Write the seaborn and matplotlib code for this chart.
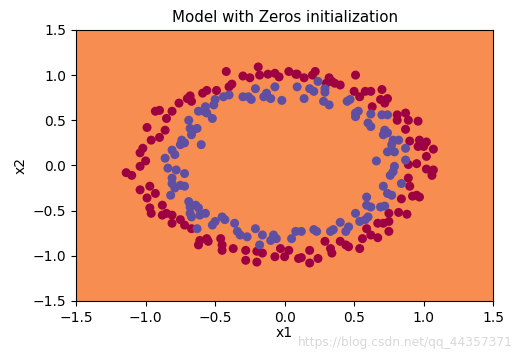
import matplotlib
matplotlib.use("Agg")
import matplotlib.pyplot as plt
import seaborn as sns
import pandas as pd

# Outer ring (label 0, dark red)
red_x = [-0.42, -0.30, -0.25, -0.19, -0.18, -0.12, -0.07, -0.04, 0.03, 0.09,
         -0.38, -0.40, -0.49, -0.56, -0.59, -0.68, -0.70, -0.67, -0.76, -0.93,
         -0.90, -0.81, -0.85, -0.99, -0.86, -0.90, -0.96, -1.02, -1.04, -1.00,
         -1.04, -1.14, -1.10,
         0.08, 0.14, 0.20, 0.22, 0.32, 0.34, 0.36, 0.40, 0.51, 0.30,
         0.50, 0.54, 0.58, 0.62, 0.70, 0.69, 0.74, 0.72, 0.63, 0.81,
         0.81, 0.87, 0.89, 0.96, 0.87, 0.90, 0.97, 1.02, 0.96, 1.00,
         1.07, 1.02, 0.89, 0.95, 1.02, 1.07, 1.06, 0.89,
         -1.04, -0.97, -0.93, -0.99, -0.97, -0.96, -0.88, -0.88, -0.85, -0.81,
         -0.81, -0.75, -0.72, -0.67, -0.62, -0.61, -0.56, -0.55, -0.46, -0.45,
         -0.45, -0.37, -0.28, -0.28, -0.20, -0.16, -0.20, -0.07, -0.03, 0.00,
         0.03, 0.10,
         0.90, 0.92, 0.95, 0.97, 0.84, 0.75, 0.82, 0.88, 0.67, 0.71,
         0.75, 0.59, 0.62, 0.75, 0.56, 0.67, 0.40, 0.44, 0.46, 0.29,
         0.33, 0.34, 0.54, 0.18, 0.12, 0.18, 0.24]
red_y = [1.04, 0.99, 0.97, 1.09, 1.00, 1.01, 1.02, 0.98, 1.04, 1.01,
         0.90, 0.87, 0.83, 0.83, 0.80, 0.77, 0.74, 0.71, 0.69, 0.60,
         0.61, 0.60, 0.52, 0.42, 0.39, 0.31, 0.28, 0.19, 0.14, 0.05,
         -0.01, -0.08, -0.11,
         1.01, 0.97, 1.00, 1.04, 0.97, 0.93, 0.91, 0.89, 1.00, 0.91,
         0.82, 0.76, 0.82, 0.82, 0.84, 0.73, 0.74, 0.69, 0.65, 0.56,
         0.50, 0.58, 0.50, 0.49, 0.40, 0.27, 0.28, 0.26, 0.21, 0.21,
         0.18, 0.10, 0.01, 0.02, -0.04, -0.05, -0.11, -0.14,
         -0.27, -0.23, -0.31, -0.36, -0.47, -0.53, -0.44, -0.55, -0.53, -0.55,
         -0.64, -0.60, -0.66, -0.70, -0.88, -0.83, -0.81, -0.84, -0.81, -0.88,
         -0.94, -0.92, -0.94, -1.05, -0.95, -0.97, -1.07, -1.01, -0.92, -1.01,
         -0.94, -1.03,
         -0.23, -0.34, -0.33, -0.35, -0.37, -0.53, -0.52, -0.54, -0.64, -0.64,
         -0.62, -0.70, -0.77, -0.73, -0.81, -0.80, -0.84, -0.88, -0.90, -0.84,
         -0.92, -0.97, -0.92, -0.94, -1.02, -1.08, -1.03]

# Inner ring (label 1, blue-violet)
blue_x = [-0.21, -0.26, -0.30, -0.24, -0.13, -0.15, -0.10, -0.07, -0.02, 0.09,
          -0.40, -0.44, -0.50, -0.51, -0.57, -0.58, -0.62, -0.52, -0.56, -0.69,
          -0.68, -0.66, -0.63, -0.67, -0.74, -0.75, -0.72, -0.60, -0.81, -0.79,
          -0.86, -0.84, -0.78, -0.72, -0.81,
          0.14, 0.18, 0.21, 0.24, 0.29, 0.29, 0.28, 0.32, 0.45, 0.47,
          0.51, 0.53, 0.51, 0.62, 0.60, 0.62, 0.70, 0.74, 0.72, 0.74,
          0.71, 0.78, 0.82, 0.77, 0.74, 0.79, 0.87, 0.66, 0.87, 0.79,
          0.78, 0.76,
          -0.81, -0.79, -0.75, -0.72, -0.82, -0.69, -0.68, -0.64, -0.62, -0.68,
          -0.67, -0.57, -0.61, -0.63, -0.52, -0.50, -0.45, -0.43, -0.36, -0.34,
          -0.32, -0.27, -0.21, -0.16, -0.18, -0.10, -0.08, -0.06, 0.05, 0.08,
          0.84, 0.71, 0.74, 0.77, 0.59, 0.59, 0.62, 0.69, 0.72, 0.51,
          0.54, 0.58, 0.60, 0.40, 0.46, 0.44, 0.35, 0.33, 0.21, 0.23,
          0.12]
blue_y = [0.85, 0.76, 0.76, 0.73, 0.80, 0.76, 0.74, 0.87, 0.72, 0.87,
          0.78, 0.76, 0.73, 0.67, 0.65, 0.60, 0.60, 0.52, 0.58, 0.50,
          0.41, 0.39, 0.41, 0.34, 0.28, 0.23, 0.25, 0.23, 0.17, 0.12,
          0.08, -0.03, -0.05, -0.09, -0.14,
          0.74, 0.85, 0.82, 0.93, 0.85, 0.81, 0.71, 0.67, 0.71, 0.73,
          0.58, 0.60, 0.54, 0.57, 0.47, 0.43, 0.56, 0.56, 0.39, 0.36,
          0.34, 0.28, 0.28, 0.23, 0.15, 0.15, 0.19, 0.05, 0.06, -0.01,
          -0.07, -0.11,
          -0.20, -0.25, -0.22, -0.23, -0.33, -0.40, -0.46, -0.44, -0.47, -0.53,
          -0.57, -0.53, -0.55, -0.70, -0.66, -0.62, -0.57, -0.60, -0.64, -0.73,
          -0.77, -0.79, -0.70, -0.77, -0.88, -0.83, -0.77, -0.81, -0.81, -0.73,
          -0.20, -0.23, -0.31, -0.33, -0.35, -0.44, -0.46, -0.46, -0.45, -0.53,
          -0.62, -0.60, -0.57, -0.63, -0.68, -0.73, -0.71, -0.73, -0.71, -0.73,
          -0.73]

title = "Model with Zeros initialization"
ticks = [-1.5, -1.0, -0.5, 0.0, 0.5, 1.0, 1.5]

df = pd.DataFrame({
    "x1": red_x + blue_x,
    "x2": red_y + blue_y,
    "label": ["0"] * len(red_x) + ["1"] * len(blue_x),
})

fig = plt.figure(figsize=(5.18, 3.52), dpi=100)
ax = fig.add_axes([0.147, 0.145, 0.805, 0.770])
ax.set_facecolor("#f88d52")
sns.scatterplot(data=df, x="x1", y="x2", hue="label",
                palette={"0": "#9e0142", "1": "#5e4fa2"},
                s=42, linewidth=0, legend=False, ax=ax)
ax.set_xlim(-1.5, 1.5)
ax.set_ylim(-1.5, 1.5)
ax.set_xticks(ticks)
ax.set_yticks(ticks)
ax.tick_params(labelsize=10)
ax.set_xlabel("x1", fontsize=10, labelpad=1)
ax.set_ylabel("x2", fontsize=10)
ax.set_title(title, fontsize=10.8)
fig.text(0.99, 0.008, "https://blog.csdn.net/qq_44357371", ha="right",
         va="bottom", fontsize=8.8, color="#d8d8d8")
fig.savefig("out.png", dpi=100)
